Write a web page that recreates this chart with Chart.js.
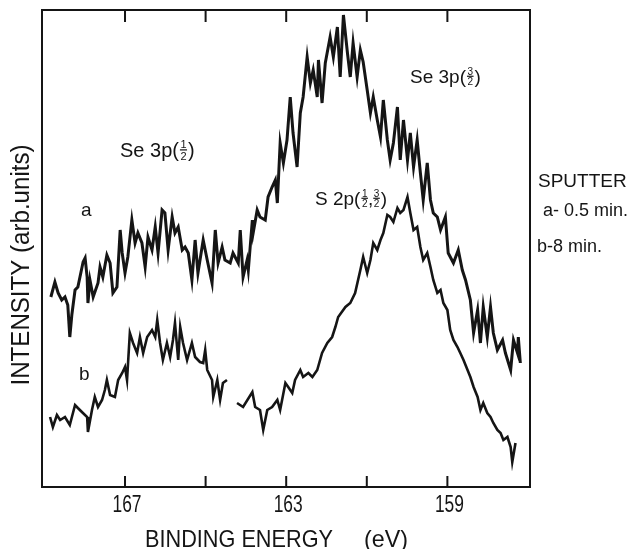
<!DOCTYPE html>
<html>
<head>
<meta charset="utf-8">
<script src="https://cdn.jsdelivr.net/npm/chart.js@4.4.1/dist/chart.umd.min.js"></script>
<style>
  html, body { margin: 0; padding: 0; background: #fff; }
  #wrap { width: 633px; height: 549px; position: relative; }
</style>
</head>
<body>
<div id="wrap"><canvas id="xps"></canvas></div>
<script>
// Binding energy (eV) and intensity (arb. units)
const energyA = [168.84, 168.74, 168.66, 168.57, 168.49, 168.42, 168.37, 168.32, 168.24, 168.17,
  168.04, 167.99, 167.94, 167.92, 167.87, 167.79, 167.67, 167.62, 167.55, 167.45,
  167.37, 167.30, 167.20, 167.12, 167.07, 167.00, 166.93, 166.83, 166.75, 166.68,
  166.58, 166.50, 166.43, 166.33, 166.25, 166.18, 166.08, 166.01, 165.93, 165.83,
  165.76, 165.68, 165.58, 165.51, 165.43, 165.34, 165.26, 165.19, 165.06, 164.96,
  164.84, 164.76, 164.69, 164.59, 164.52, 164.39, 164.32, 164.19, 164.14, 164.07,
  163.97, 163.94, 163.84, 163.82, 163.72, 163.65, 163.52, 163.45, 163.35, 163.27,
  163.22, 163.15, 163.07, 162.98, 162.90, 162.83, 162.73, 162.65, 162.58, 162.48,
  162.40, 162.33, 162.23, 162.20, 162.11, 162.03, 161.91, 161.83, 161.73, 161.66,
  161.58, 161.48, 161.41, 161.34, 161.24, 161.16, 161.09, 160.99, 160.91, 160.84,
  160.74, 160.66, 160.59, 160.49, 160.42, 160.34, 160.24, 160.17, 160.09, 159.99,
  159.92, 159.84, 159.75, 159.67, 159.60, 159.50, 159.42, 159.35, 159.25, 159.17,
  159.05, 158.98, 158.85, 158.73, 158.63, 158.55, 158.43, 158.35, 158.25, 158.18,
  158.11, 158.01, 157.93, 157.86, 157.76, 157.63, 157.56, 157.43, 157.36, 157.26,
  157.24, 157.19];
const intensityA = [190, 205, 194, 187, 190, 182, 150, 172, 197, 200,
  225, 229, 210, 184, 207, 190, 204, 220, 210, 232,
  224, 194, 200, 257, 234, 214, 230, 267, 244, 254,
  244, 220, 250, 237, 260, 234, 277, 274, 237, 270,
  254, 260, 237, 240, 234, 207, 247, 214, 247, 227,
  204, 257, 224, 240, 227, 224, 234, 224, 257, 210,
  227, 217, 267, 254, 277, 270, 267, 290, 300, 307,
  284, 344, 324, 347, 390, 354, 320, 374, 390, 430,
  404, 417, 390, 427, 384, 424, 450, 430, 460, 410,
  472, 434, 410, 444, 410, 437, 425, 397, 374, 390,
  367, 350, 387, 347, 327, 344, 380, 327, 367, 327,
  354, 320, 347, 314, 287, 324, 287, 274, 270, 257,
  270, 234, 224, 237, 217, 207, 187, 154, 177, 144,
  180, 150, 180, 154, 137, 147, 134, 117, 147, 134,
  150, 124];

const energyB = [168.86, 168.79, 168.69, 168.61, 168.49, 168.37, 168.24, 168.17, 168.07, 167.94,
  167.92, 167.82, 167.75, 167.67, 167.57, 167.50, 167.45, 167.37, 167.25, 167.17,
  167.07, 167.00, 166.95, 166.88, 166.80, 166.70, 166.63, 166.55, 166.45, 166.33,
  166.25, 166.20, 166.13, 166.06, 165.96, 165.88, 165.81, 165.76, 165.68, 165.63,
  165.56, 165.46, 165.34, 165.26, 165.14, 165.06, 165.01, 164.96, 164.84, 164.81,
  164.71, 164.64, 164.57, 164.47, 164.35, 164.22, 164.07, 163.84, 163.77, 163.65,
  163.57, 163.47, 163.35, 163.22, 163.15, 163.02, 162.95, 162.85, 162.78, 162.65,
  162.58, 162.45, 162.35, 162.23, 162.11, 161.98, 161.86, 161.78, 161.71, 161.53,
  161.41, 161.29, 161.16, 161.09, 160.99, 160.91, 160.84, 160.74, 160.66, 160.59,
  160.49, 160.42, 160.34, 160.24, 160.17, 160.09, 159.99, 159.92, 159.84, 159.75,
  159.67, 159.60, 159.50, 159.42, 159.35, 159.25, 159.17, 159.10, 159.00, 158.93,
  158.85, 158.75, 158.68, 158.60, 158.50, 158.43, 158.35, 158.25, 158.18, 158.11,
  158.01, 157.93, 157.86, 157.76, 157.68, 157.61, 157.51, 157.43, 157.39, 157.31];
const intensityB = [70, 60, 72, 67, 70, 62, 82, 79, 75, 70,
  55, 77, 90, 80, 87, 97, 107, 92, 90, 107,
  114, 120, 107, 154, 144, 134, 150, 134, 150, 157,
  150, 167, 144, 127, 144, 130, 147, 164, 127, 160,
  144, 127, 144, 130, 125, 124, 137, 117, 107, 90,
  107, 87, 104, 107, null, 84, 80, 95, 80, 77,
  57, 77, 80, 87, 77, 104, 100, 94, 107, 117,
  110, 114, 110, 117, 134, 144, 150, 160, 170, 180,
  184, 194, 217, 230, 214, 227, 244, 237, 247, 254,
  272, 270, 265, 279, 274, 277, 290, 274, 257, 260,
  240, 227, 234, 220, 207, 194, 197, 184, 177, 157,
  147, 140, 134, 127, 117, 110, 100, 90, 77, 84,
  74, 70, 64, 57, 54, 47, 50, 40, 25, 44];

const majorTicks = [167, 165, 163, 161, 159];
const labelledTicks = [167, 163, 159];

const ink = '#151515';
const FONT = '"Liberation Sans", "DejaVu Sans", sans-serif';

function toPoints(xs, ys) {
    return xs.map((x, i) => ({ x: x, y: ys[i] }));
}

// label with stacked fractions, e.g. Se 3p(1/2)
function drawFracLabel(ctx, x, base, prefix, fracs, size) {
    ctx.font = size + 'px ' + FONT;
    ctx.textAlign = 'left';
    ctx.textBaseline = 'alphabetic';
    ctx.fillText(prefix + '(', x, base);
    let cx = x + ctx.measureText(prefix + '(').width + 1;
    const small = Math.round(size * 0.55);
    const mid = base - size * 0.36;
    fracs.forEach((f, i) => {
        ctx.font = small + 'px ' + FONT;
        const w = Math.max(ctx.measureText(f[0]).width, ctx.measureText(f[1]).width) + 1;
        ctx.textAlign = 'center';
        ctx.fillText(f[0], cx + w / 2, mid - 1.5);
        ctx.fillText(f[1], cx + w / 2, mid + small * 0.72 + 2);
        ctx.fillRect(cx, mid - 0.5, w, 1.2);
        cx += w;
        if (i < fracs.length - 1) {
            ctx.font = size + 'px ' + FONT;
            ctx.textAlign = 'left';
            ctx.fillText(',', cx, base);
            cx += ctx.measureText(',').width;
        }
    });
    ctx.font = size + 'px ' + FONT;
    ctx.textAlign = 'left';
    ctx.fillText(')', cx + 1, base);
}

function fitText(ctx, text, x, y, size, width, align) {
    ctx.font = size + 'px ' + FONT;
    ctx.textAlign = align || 'left';
    ctx.textBaseline = 'alphabetic';
    ctx.fillText(text, x, y, width);
}

const framePlugin = {
    id: 'frame',
    afterDraw(chart) {
        const ctx = chart.ctx;
        const a = chart.chartArea;
        const xs = chart.scales.x;
        ctx.save();
        ctx.strokeStyle = ink;
        ctx.fillStyle = ink;
        ctx.lineWidth = 2;
        ctx.strokeRect(a.left, a.top, a.right - a.left, a.bottom - a.top);
        // inward ticks top and bottom
        majorTicks.forEach(v => {
            const px = xs.getPixelForValue(v);
            ctx.beginPath();
            ctx.moveTo(px, a.bottom);
            ctx.lineTo(px, a.bottom - 11);
            ctx.moveTo(px, a.top);
            ctx.lineTo(px, a.top + 12);
            ctx.stroke();
        });
        // tick labels, narrow lettering
        labelledTicks.forEach(v => {
            const px = xs.getPixelForValue(v);
            fitText(ctx, String(v), px + 2, a.bottom + 25, 24, 29, 'center');
        });

        // axis titles
        fitText(ctx, 'BINDING ENERGY', 145, 547, 24, 188);
        fitText(ctx, '(eV)', 364, 547, 24, 44);
        ctx.save();
        ctx.translate(29, 265);
        ctx.rotate(-Math.PI / 2);
        fitText(ctx, 'INTENSITY (arb.units)', 0, 0, 25, 241, 'center');
        ctx.restore();

        // peak labels
        drawFracLabel(ctx, 120, 157, 'Se 3p', [['1', '2']], 20);
        drawFracLabel(ctx, 410, 83, 'Se 3p', [['3', '2']], 19);
        drawFracLabel(ctx, 315, 205, 'S 2p', [['1', '2'], ['3', '2']], 19);
        fitText(ctx, 'a', 81, 216, 19);
        fitText(ctx, 'b', 79, 380, 19);

        // sputter legend
        fitText(ctx, 'SPUTTER', 538, 187, 19, 92);
        fitText(ctx, 'a- 0.5 min.', 543, 216, 18, 90);
        fitText(ctx, 'b-8 min.', 537, 252, 18, 81);
        ctx.restore();
    }
};

new Chart(document.getElementById('xps'), {
    type: 'line',
    data: {
        datasets: [{
            label: 'a',
            data: toPoints(energyA, intensityA),
            borderColor: ink,
            borderWidth: 3,
            pointRadius: 0,
            tension: 0
        }, {
            label: 'b',
            data: toPoints(energyB, intensityB),
            borderColor: ink,
            borderWidth: 2.6,
            pointRadius: 0,
            tension: 0
        }]
    },
    options: {
        responsive: true,
        maintainAspectRatio: false,
        animation: false,
        layout: { padding: { left: 42, right: 103, top: 10, bottom: 0 } },
        plugins: {
            legend: { display: false },
            tooltip: { enabled: false }
        },
        scales: {
            x: {
                type: 'linear',
                reverse: true,
                min: 156.95,
                max: 169.06,
                afterBuildTicks(scale) {
                    scale.ticks = majorTicks.map(v => ({ value: v }));
                },
                afterFit(scale) {
                    scale.height = 62;
                },
                grid: { display: false, drawTicks: false },
                border: { display: false },
                ticks: { display: false }
            },
            y: {
                display: false,
                min: 0,
                max: 477
            }
        }
    },
    plugins: [framePlugin]
});
</script>
</body>
</html>
